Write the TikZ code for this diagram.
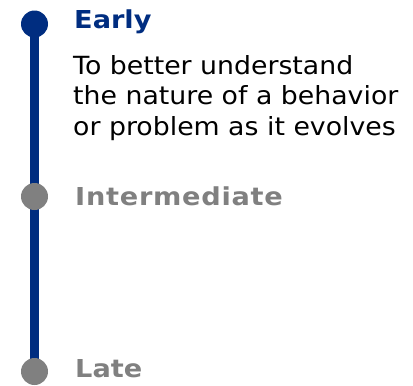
\documentclass[tikz,border=0pt]{standalone}
\usepackage{fontspec}
\setmainfont{DejaVu Sans}[FakeStretch=1.07]
\usetikzlibrary{positioning, backgrounds}
\definecolor{railblue}{RGB}{0,45,128}
\definecolor{stagegray}{RGB}{128,128,128}
\tikzset{
  stagedot/.style={circle, fill=#1, minimum size=27pt, inner sep=0pt},
  rail/.style={draw=railblue, line width=9pt},
  stage/.style={anchor=base west, inner sep=0pt, text=#1,
    font=\fontsize{24.7}{30}\selectfont\bfseries\addfontfeature{FakeStretch=1.1}},
  body/.style={anchor=base west, inner sep=0pt, align=left,
    font=\fontsize{25}{30.5}\selectfont},
}

\begin{document}
\begin{tikzpicture}[x=1pt, y=-1pt]
    \useasboundingbox (0,0) rectangle (413,386);
    \node[stagedot=railblue] (early) at (34.5,24) {};
    \node[stagedot=stagegray] (mid) at (34.5,196.5) {};
    \node[stagedot=stagegray] (late) at (34.5,371.5) {};
    \begin{scope}[on background layer]
      \draw[rail] (early.center) -- (late.center);
    \end{scope}
    \node[stage=railblue] (earlylbl) at (74,28) {Early};
    % base of a multi-line node sits on its last line
    \node[body] (earlytxt) at (73,135) {To better understand\\the nature of a behavior\\or problem as it evolves};
    \node[stage=stagegray] (midlbl) at (75,205) {\addfontfeature{LetterSpace=3}Intermediate};
    \node[stage=stagegray] (latelbl) at (75,377) {Late};
  \end{tikzpicture}
\end{document}
